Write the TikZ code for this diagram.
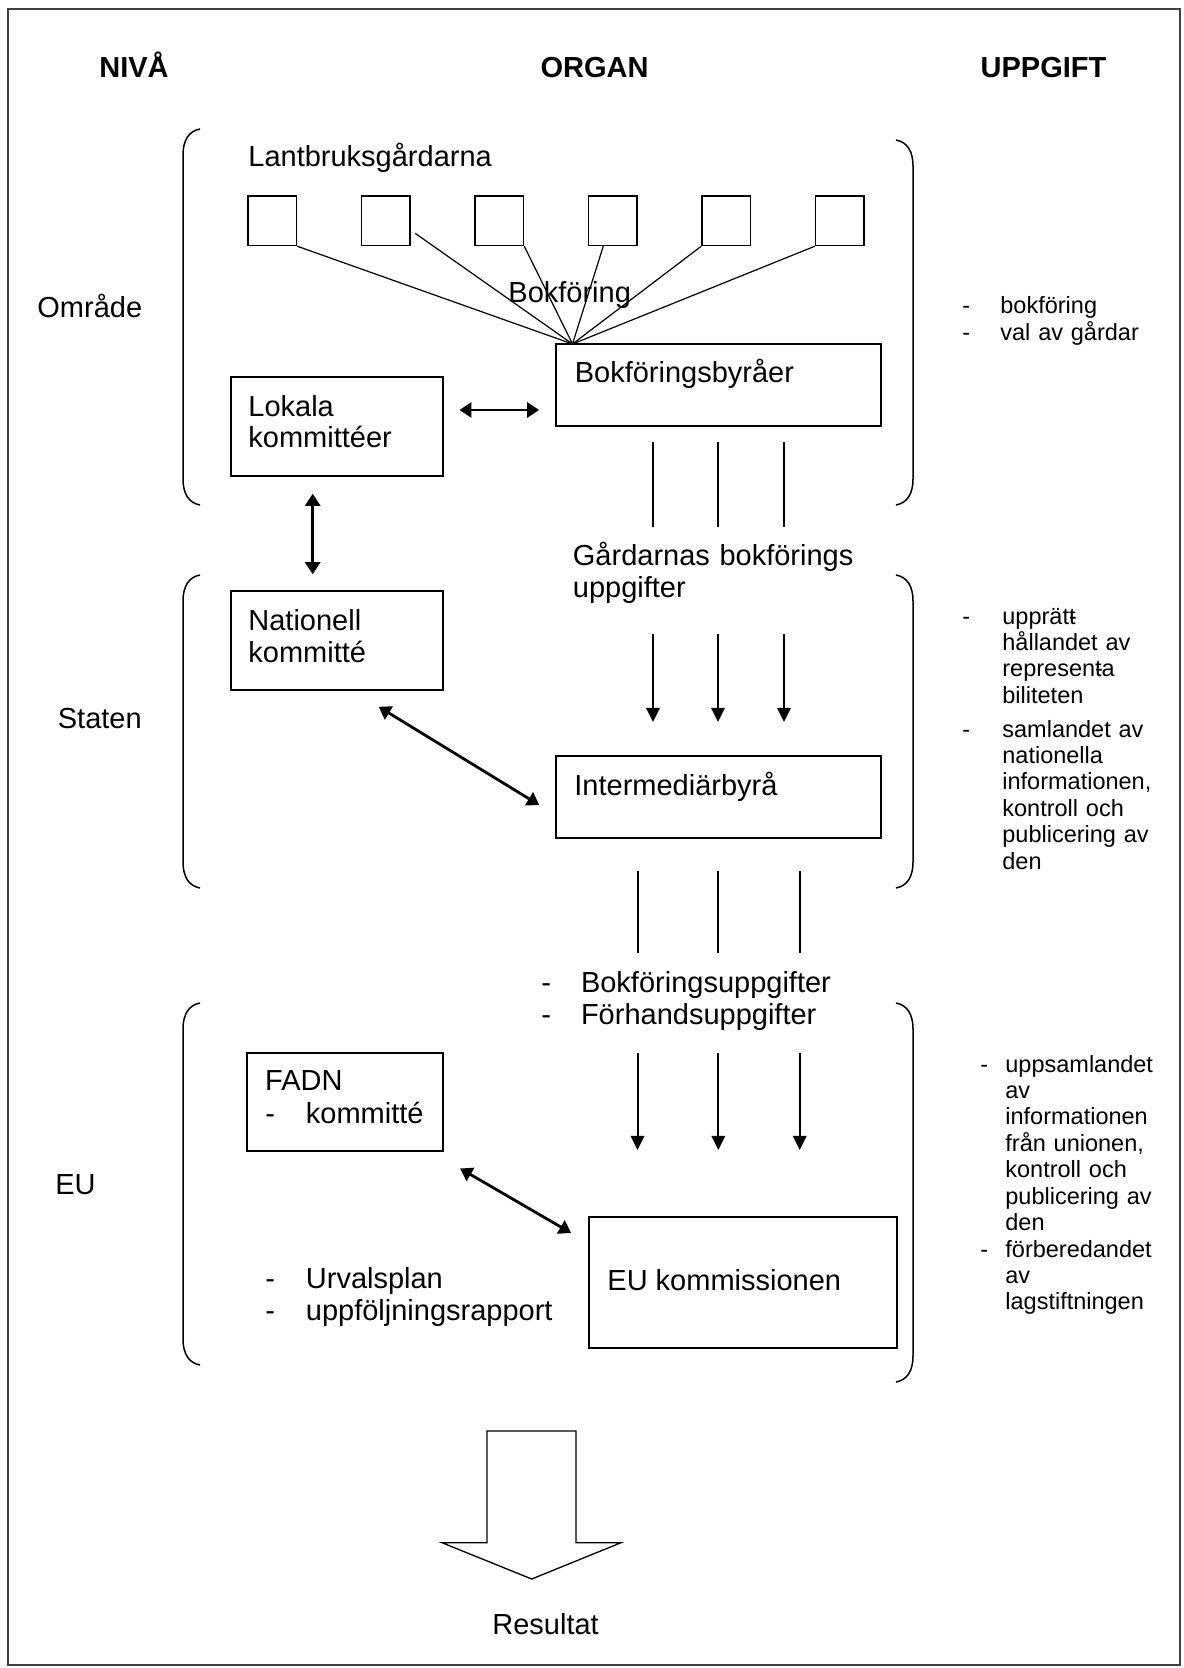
\documentclass[tikz,border=0pt]{standalone}
\usepackage{fontspec}
\setmainfont{Liberation Sans}
\usetikzlibrary{arrows.meta,calc}

\begin{document}
\begin{tikzpicture}[x=0.5pt,y=-0.5pt,
  farm/.style={draw, line width=0.75pt, inner sep=0pt, minimum width=24.25pt, minimum height=24.75pt},
  orgbox/.style={draw, line width=0.8pt, inner sep=0pt},
  lbl/.style={font=\fontsize{14.5pt}{16pt}\selectfont, inner sep=0pt, anchor=base west},
  lbllines/.style={lbl, text width=150pt, align=left},
  hdr/.style={font=\fontsize{14.5pt}{16pt}\selectfont\bfseries, inner sep=0pt, anchor=base},
  task/.style={font=\fontsize{11.75pt}{13.2pt}\selectfont, inner sep=0pt, anchor=base west, text width=90pt, align=left},
  feed/.style={line width=0.6pt},
  flow/.style={line width=1pt},
  arr/.style={flow, -{Triangle[length=7pt,width=6.7pt]}},
  dbl/.style={line width=1.4pt, {Triangle[length=6pt,width=7.5pt]}-{Triangle[length=6pt,width=7.5pt]}},
  bracket/.style={line width=0.75pt},
  frame/.style={line width=1pt, draw=black!75}
]
\useasboundingbox (0,0) rectangle (1183,1668);
\draw[frame] (8,9.5) rectangle (1180,1665);

% column headings
\node[hdr] (hNiva) at (134,78) {NIVÅ};
\node[hdr] (hOrgan) at (594.5,78) {ORGAN};
\node[hdr] (hUppg) at (1043.5,78) {UPPGIFT};

% levels
\node[lbl] (lvOmr) at (37,317.5) {Område};
\node[lbl] (lvStat) at (57.5,728.5) {Staten};
\node[lbl] (lvEU) at (55,1194.5) {EU};

% brackets around each level
\draw[bracket] (200,129) .. controls (189,131) and (183,140) .. (183,155) -- (183,479) .. controls (183,494) and (189,503) .. (200,505);
\draw[bracket] (896,140) .. controls (907,142) and (913,151) .. (913,166) -- (913,479) .. controls (913,494) and (907,503) .. (896,505);
\draw[bracket] (200,575) .. controls (189,577) and (183,586) .. (183,601) -- (183,862) .. controls (183,877) and (189,886) .. (200,888);
\draw[bracket] (896,575) .. controls (907,577) and (913,586) .. (913,601) -- (913,862) .. controls (913,877) and (907,886) .. (896,888);
\draw[bracket] (200,1003) .. controls (189,1005) and (183,1014) .. (183,1029) -- (183,1339) .. controls (183,1354) and (189,1363) .. (200,1365);
\draw[bracket] (896,1003) .. controls (907,1005) and (913,1014) .. (913,1029) -- (913,1356) .. controls (913,1371) and (907,1380) .. (896,1382);

% farms
\node[lbl] (farmsLbl) at (248,167) {Lantbruksgårdarna};
\node[farm] (f1) at (272.25,220.75) {};
\node[farm] (f2) at (385.75,220.75) {};
\node[farm] (f3) at (499.25,220.75) {};
\node[farm] (f4) at (612.75,220.75) {};
\node[farm] (f5) at (726.25,220.75) {};
\node[farm] (f6) at (839.75,220.75) {};

% organs
\node[orgbox, minimum width=162.65pt, minimum height=41pt] (bb) at (718.35,385) {};
\node[lbl] (bbTxt) at (574.4,383) {Bokföringsbyråer};
\node[orgbox, minimum width=106pt, minimum height=49.5pt] (lk) at (337,426.5) {};
\node[lbllines] (lkTxt) at (248,416) {Lokala\\kommittéer};
\node[orgbox, minimum width=106pt, minimum height=49.65pt] (nk) at (337,640.35) {};
\node[lbllines] (nkTxt) at (248,630) {Nationell\\kommitté};
\node[orgbox, minimum width=162.65pt, minimum height=41pt] (ib) at (718.35,797) {};
\node[lbl] (ibTxt) at (574,795) {Intermediärbyrå};
\node[orgbox, minimum width=98pt, minimum height=49.15pt] (fadn) at (345,1101.85) {};
\node[lbl] (fadnTxt) at (264.8,1090.5) {FADN};
\node[lbl] (fadnDash) at (265,1123) {-};
\node[lbl] (fadnKom) at (305.5,1123) {kommitté};
\node[orgbox, minimum width=154.15pt, minimum height=65.5pt] (euk) at (742.85,1282.5) {};
\node[lbl] (eukTxt) at (607,1290) {EU kommissionen};

% data flowing between the levels
\node[lbl] (bokf) at (508,303) {Bokföring};
\node[lbllines] (gbu) at (572.5,565) {Gårdarnas bokförings\\uppgifter};
\node[lbllines] (duDash) at (541,992) {-\\-};
\node[lbllines] (du) at (580.6,992) {Bokföringsuppgifter\\Förhandsuppgifter};
\node[lbllines] (urvDash) at (265,1288) {-\\-};
\node[lbllines] (urv) at (305.5,1288) {Urvalsplan\\uppföljningsrapport};

% farms report to the bureaus
\coordinate (conv) at (572.5,344);
\draw[feed] (f1.south east) -- (conv);
\draw[feed] ($(f2.south east)+(4.6,-12.8)$) -- (conv);
\draw[feed] (f3.south east) -- (conv);
\draw[feed] ($(f4.south west)+(15.5,0)$) -- (conv);
\draw[feed] (f5.south west) -- (conv);
\draw[feed] (f6.south west) -- (conv);

% vertical flows
\coordinate (a1) at (653,527);
\coordinate (a2) at (718,527);
\coordinate (a3) at (784,527);
\foreach \c in {a1,a2,a3}
  \draw[flow, shorten <=7.85pt] (\c |- bb.south) -- (\c);
\coordinate (b1) at (653,634);
\coordinate (b2) at (718,634);
\coordinate (b3) at (784,634);
\foreach \c in {b1,b2,b3}
  \draw[arr, shorten >=16.65pt] (\c) -- (\c |- ib.north);
\coordinate (c1) at (637.5,953);
\coordinate (c2) at (718.4,953);
\coordinate (c3) at (799.7,953);
\foreach \c in {c1,c2,c3}
  \draw[flow, shorten <=16pt] (\c |- ib.south) -- (\c);
\coordinate (d1) at (637.5,1053);
\coordinate (d2) at (718.4,1053);
\coordinate (d3) at (799.7,1053);
\foreach \c in {d1,d2,d3}
  \draw[arr, shorten >=33.15pt] (\c) -- (\c |- euk.north);

% two-way links
\draw[dbl, shorten <=7.8pt, shorten >=7.85pt] ([yshift=8.25pt]lk.east) -- ([yshift=-12.5pt]bb.west);
\draw[dbl, shorten <=8.5pt, shorten >=7.85pt] ([xshift=-12.15pt]lk.south) -- ([xshift=-12.15pt]nk.north);
\draw[dbl, shorten <=15.3pt, shorten >=9.2pt] ([xshift=7.8pt]nk.south) -- ([yshift=-8.8pt]ib.west);
\draw[dbl, shorten <=16.6pt, shorten >=9.7pt] ([xshift=43.2pt]fadn.south) -- ([yshift=19.9pt]euk.west);

% tasks
\node[task] (t1d) at (962,314) {-\\-};
\node[task] (t1) at (1000,314) {bokföring\\val av gårdar};
\node[task] (t2d) at (962,624) {-};
\node[task] (t2) at (1002,624) {upprät\rlap{-}t\\hållandet av\\represen\rlap{-}ta\\biliteten};
\node[task] (t3d) at (962,737) {-};
\node[task] (t3) at (1002,737) {samlandet av\\nationella\\informationen,\\kontroll och\\publicering av\\den};
\node[task] (t4d) at (980,1072) {-};
\node[task] (t4) at (1005,1072) {uppsamlandet\\av\\informationen\\från unionen,\\kontroll och\\publicering av\\den};
\node[task] (t5d) at (980,1257) {-};
\node[task] (t5) at (1005,1257) {förberedandet\\av\\lagstiftningen};

% result
\draw[line width=0.65pt] (487,1431) -- (576,1431) -- (576,1542.7) -- (621,1542.7) -- (531.7,1579) -- (442,1542.7) -- (487,1542.7) -- cycle;
\node[lbl] (res) at (492,1634) {Resultat};
\end{tikzpicture}
\end{document}
